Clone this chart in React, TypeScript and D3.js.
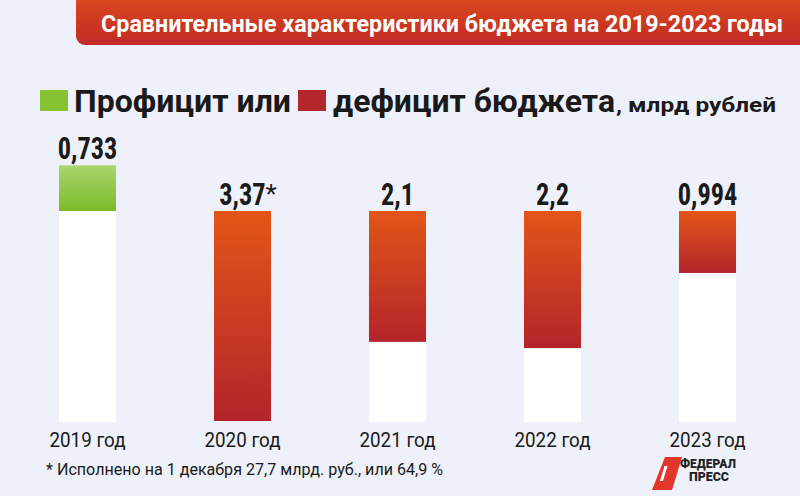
import React from "react";
import * as d3 from "d3";

const years = ["2019 год", "2020 год", "2021 год", "2022 год", "2023 год"];
const balance = [0.733, -3.37, -2.1, -2.2, -0.994];
const valueLabels = ["0,733", "3,37", "2,1", "2,2", "0,994"];
const labelNotes = ["", "*", "", "", ""];
const titleText = "Сравнительные характеристики бюджета на 2019-2023 годы";
const legendSurplus = "Профицит или";
const legendDeficit = "дефицит бюджета";
const legendUnit = ", млрд рублей";
const footnote = "* Исполнено на 1 декабря 27,7 млрд. руб., или 64,9 %";

const W = 800;
const H = 496;
const BG = "#eef1f9";
const COND = "'Liberation Sans Narrow', 'Roboto Condensed', 'DejaVu Sans Condensed', sans-serif";

export default function App() {
  const x = d3
    .scaleBand<string>()
    .domain(years)
    .range([10, 785])
    .paddingInner(0.632)
    .paddingOuter(0.316);
  const y = d3.scaleLinear().domain([-3.37, 0]).range([421, 211]);
  const bw = x.bandwidth();
  const base = y(-3.37);

  return (
    <svg
      width={W}
      height={H}
      style={{ position: "absolute", left: 0, top: 0, display: "block" }}
      xmlns="http://www.w3.org/2000/svg"
    >
      <defs>
        <linearGradient id="gGreen" x1="0" y1="0" x2="0" y2="1">
          <stop offset="0" stopColor="#a9d46e" />
          <stop offset="1" stopColor="#7cbb29" />
        </linearGradient>
        <linearGradient id="gRed" x1="0" y1="0" x2="0" y2="1">
          <stop offset="0" stopColor="#e25618" />
          <stop offset="1" stopColor="#b3242a" />
        </linearGradient>
        <linearGradient id="gHead" x1="0" y1="0" x2="0" y2="1">
          <stop offset="0" stopColor="#de4f19" />
          <stop offset="1" stopColor="#c12a27" />
        </linearGradient>
      </defs>
      <rect width={W} height={H} fill={BG} />

      {/* header */}
      <rect x={76} y={-12} width={760} height={57} rx={9} fill="url(#gHead)" />
      <text
        x={101}
        y={32}
        fill="#fff"
        fontFamily="Roboto, sans-serif"
        fontWeight={700}
        fontSize={23}
        textLength={682}
        lengthAdjust="spacingAndGlyphs"
      >
        {titleText}
      </text>

      {/* legend */}
      <rect x={40} y={90} width={28} height={21} fill="#86c232" />
      <text
        x={74}
        y={112}
        fill="#1a1a1a"
        fontFamily="Roboto, sans-serif"
        fontWeight={700}
        fontSize={31}
        textLength={217}
        lengthAdjust="spacingAndGlyphs"
      >
        {legendSurplus}
      </text>
      <rect x={298} y={90} width={28} height={21} fill="#b3262a" />
      <text
        x={333}
        y={112}
        fill="#1a1a1a"
        fontFamily="Roboto, sans-serif"
        fontWeight={700}
        fontSize={31}
        textLength={282}
        lengthAdjust="spacingAndGlyphs"
      >
        {legendDeficit}
      </text>
      <text
        x={616}
        y={112}
        fill="#1a1a1a"
        fontFamily="Roboto, sans-serif"
        fontWeight={700}
        fontSize={20}
        textLength={160}
        lengthAdjust="spacingAndGlyphs"
      >
        {legendUnit}
      </text>

      {/* bars */}
      {years.map((yr, i) => {
        const v = balance[i];
        const bx = x(yr)!;
        const cx = bx + bw / 2;
        const zero = y(0);
        const top = v > 0 ? y(v) : zero;
        const colBottom = v > 0 ? zero : y(v);
        return (
          <g key={yr}>
            <rect x={bx} y={colBottom} width={bw} height={Math.max(0, base + 1 - colBottom)} fill="#ffffff" />
            <rect
              x={bx}
              y={top}
              width={bw}
              height={colBottom - top}
              fill={v > 0 ? "url(#gGreen)" : "url(#gRed)"}
            />
            <text
              transform={`translate(${cx},${top - 6}) scale(0.85,1)`}
              textAnchor="middle"
              fill="#1a1a1a"
              fontFamily={COND}
              fontWeight={700}
              fontSize={31}
            >
              {valueLabels[i]}
            </text>
            {labelNotes[i] && (
              <text
                x={cx + 23}
                y={top - 8}
                fill="#1a1a1a"
                fontFamily="Roboto, sans-serif"
                fontWeight={400}
                fontSize={26}
              >
                {labelNotes[i]}
              </text>
            )}
            <text
              transform={`translate(${cx},447) scale(0.94,1)`}
              textAnchor="middle"
              fill="#1a1a1a"
              fontFamily="Roboto, sans-serif"
              fontSize={20}
            >
              {yr}
            </text>
          </g>
        );
      })}

      {/* footnote */}
      <text
        x={46}
        y={475}
        fill="#1a1a1a"
        fontFamily="Roboto, sans-serif"
        fontSize={16}
        textLength={397}
        lengthAdjust="spacingAndGlyphs"
      >
        {footnote}
      </text>

      {/* logo */}
      <g>
        <polygon points="665,457 682,457 672,490 652,490" fill="#e2352b" />
        <rect x={664} y={466} width={3} height={15} fill="#fff" transform="skewX(-17) translate(143,0)" />
        <text
          x={708}
          y={468}
          textAnchor="middle"
          fill="#222"
          fontFamily="Roboto, sans-serif"
          fontWeight={900}
          fontSize={12}
          textLength={56}
          lengthAdjust="spacingAndGlyphs"
        >
          ФЕДЕРАЛ
        </text>
        <text
          x={709}
          y={481}
          textAnchor="middle"
          fill="#222"
          fontFamily="Roboto, sans-serif"
          fontWeight={900}
          fontSize={12}
          textLength={40}
          lengthAdjust="spacingAndGlyphs"
        >
          ПРЕСС
        </text>
      </g>
    </svg>
  );
}
